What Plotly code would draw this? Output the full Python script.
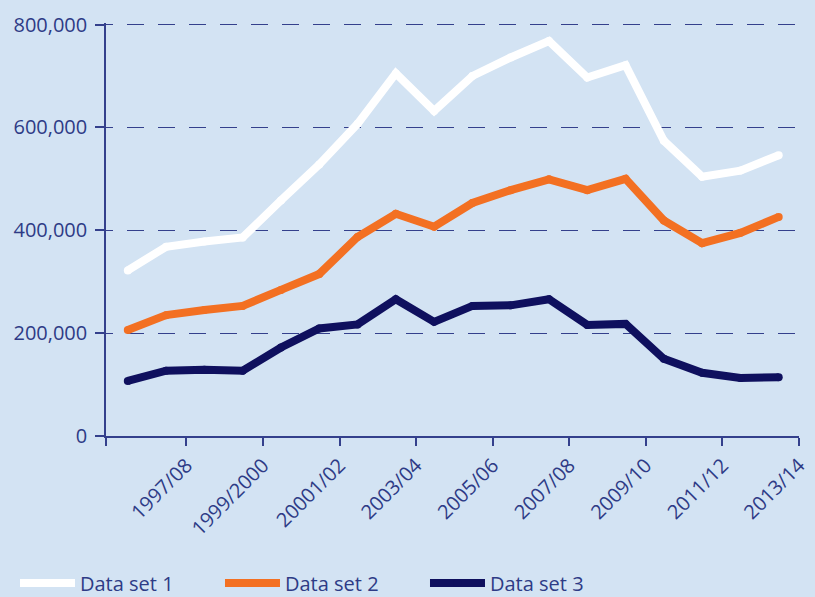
import plotly.graph_objects as go

years = ["1996/97", "1997/98", "1998/99", "1999/2000", "2000/01", "2001/02",
         "2002/03", "2003/04", "2004/05", "2005/06", "2006/07", "2007/08",
         "2008/09", "2009/10", "2010/11", "2011/12", "2012/13", "2013/14"]
tick_labels = ["1997/08", "1999/2000", "20001/02", "2003/04", "2005/06",
               "2007/08", "2009/10", "2011/12", "2013/14"]
series_names = ["Data set 1", "Data set 2", "Data set 3"]
data_set_1 = [322000, 368000, 378000, 386000, 458000, 528000, 607000, 705000, 632000,
              700000, 736000, 768000, 697000, 721000, 574000, 504000, 516000, 546000]
data_set_2 = [206000, 235000, 245000, 253000, 284000, 315000, 387000, 432000, 407000,
              453000, 478000, 499000, 478000, 500000, 419000, 375000, 395000, 426000]
data_set_3 = [107000, 127000, 129000, 127000, 172000, 209000, 217000, 266000, 222000,
              253000, 254000, 266000, 216000, 218000, 150000, 123000, 113000, 114000]
y_ticks = [0, 200000, 400000, 600000, 800000]

bg = "#d3e3f3"
txt = "#2e3b86"
axis_col = "#34408c"
colors = ["#ffffff", "#f37022", "#0f105e"]

x = list(range(len(years)))
fig = go.Figure()
for name, vals, col in zip(series_names, [data_set_1, data_set_2, data_set_3], colors):
    fig.add_trace(go.Scatter(
        x=x, y=vals, name=name, mode="lines+markers",
        line=dict(color=col, width=8),
        marker=dict(color=col, size=8, line=dict(width=0)),
        customdata=years, hovertemplate="%{customdata}: %{y:,}<extra>" + name + "</extra>",
    ))

x_lo, x_hi = -0.57, 17.53
tick_pos = [x_lo] + [1.53 + 2 * k for k in range(len(tick_labels))]
tick_txt = [""] + tick_labels

dash = "7px,14px" + ",17px,14px" * 24

fig.update_layout(
    width=815, height=597, autosize=False,
    margin=dict(l=106, r=16, t=23, b=161, autoexpand=False),
    paper_bgcolor=bg, plot_bgcolor=bg,
    font=dict(family="Open Sans", size=20, color=txt),
    showlegend=True,
    legend=dict(orientation="h", xref="container", yref="container",
                x=0.0184, xanchor="left", y=0.0234, yanchor="middle",
                bgcolor="rgba(0,0,0,0)", itemwidth=55, font=dict(size=20, color=txt),
                entrywidth=135, traceorder="normal"),
    xaxis=dict(range=[x_lo, x_hi], tickmode="array", tickvals=tick_pos, ticktext=tick_txt,
               tickangle=-45, ticks="outside", ticklen=8, tickwidth=1.5, tickcolor=axis_col,
               showline=True, linecolor=axis_col, linewidth=1.5, showgrid=False,
               zeroline=False, automargin=False, tickfont=dict(size=20, color=txt)),
    yaxis=dict(range=[0, 803000], tickmode="array", tickvals=y_ticks, tickformat=",",
               ticks="outside", ticklen=9, tickwidth=1.5, tickcolor=axis_col,
               showline=True, linecolor=axis_col, linewidth=1.5,
               showgrid=True, gridcolor=axis_col, gridwidth=1.2, griddash=dash,
               zeroline=False, automargin=False, tickfont=dict(size=20, color=txt),
               ticklabelstandoff=4),
)

fig.write_html("out.html", config={"displayModeBar": False},
               post_script="document.body.style.margin='0';document.body.style.overflow='hidden';")
